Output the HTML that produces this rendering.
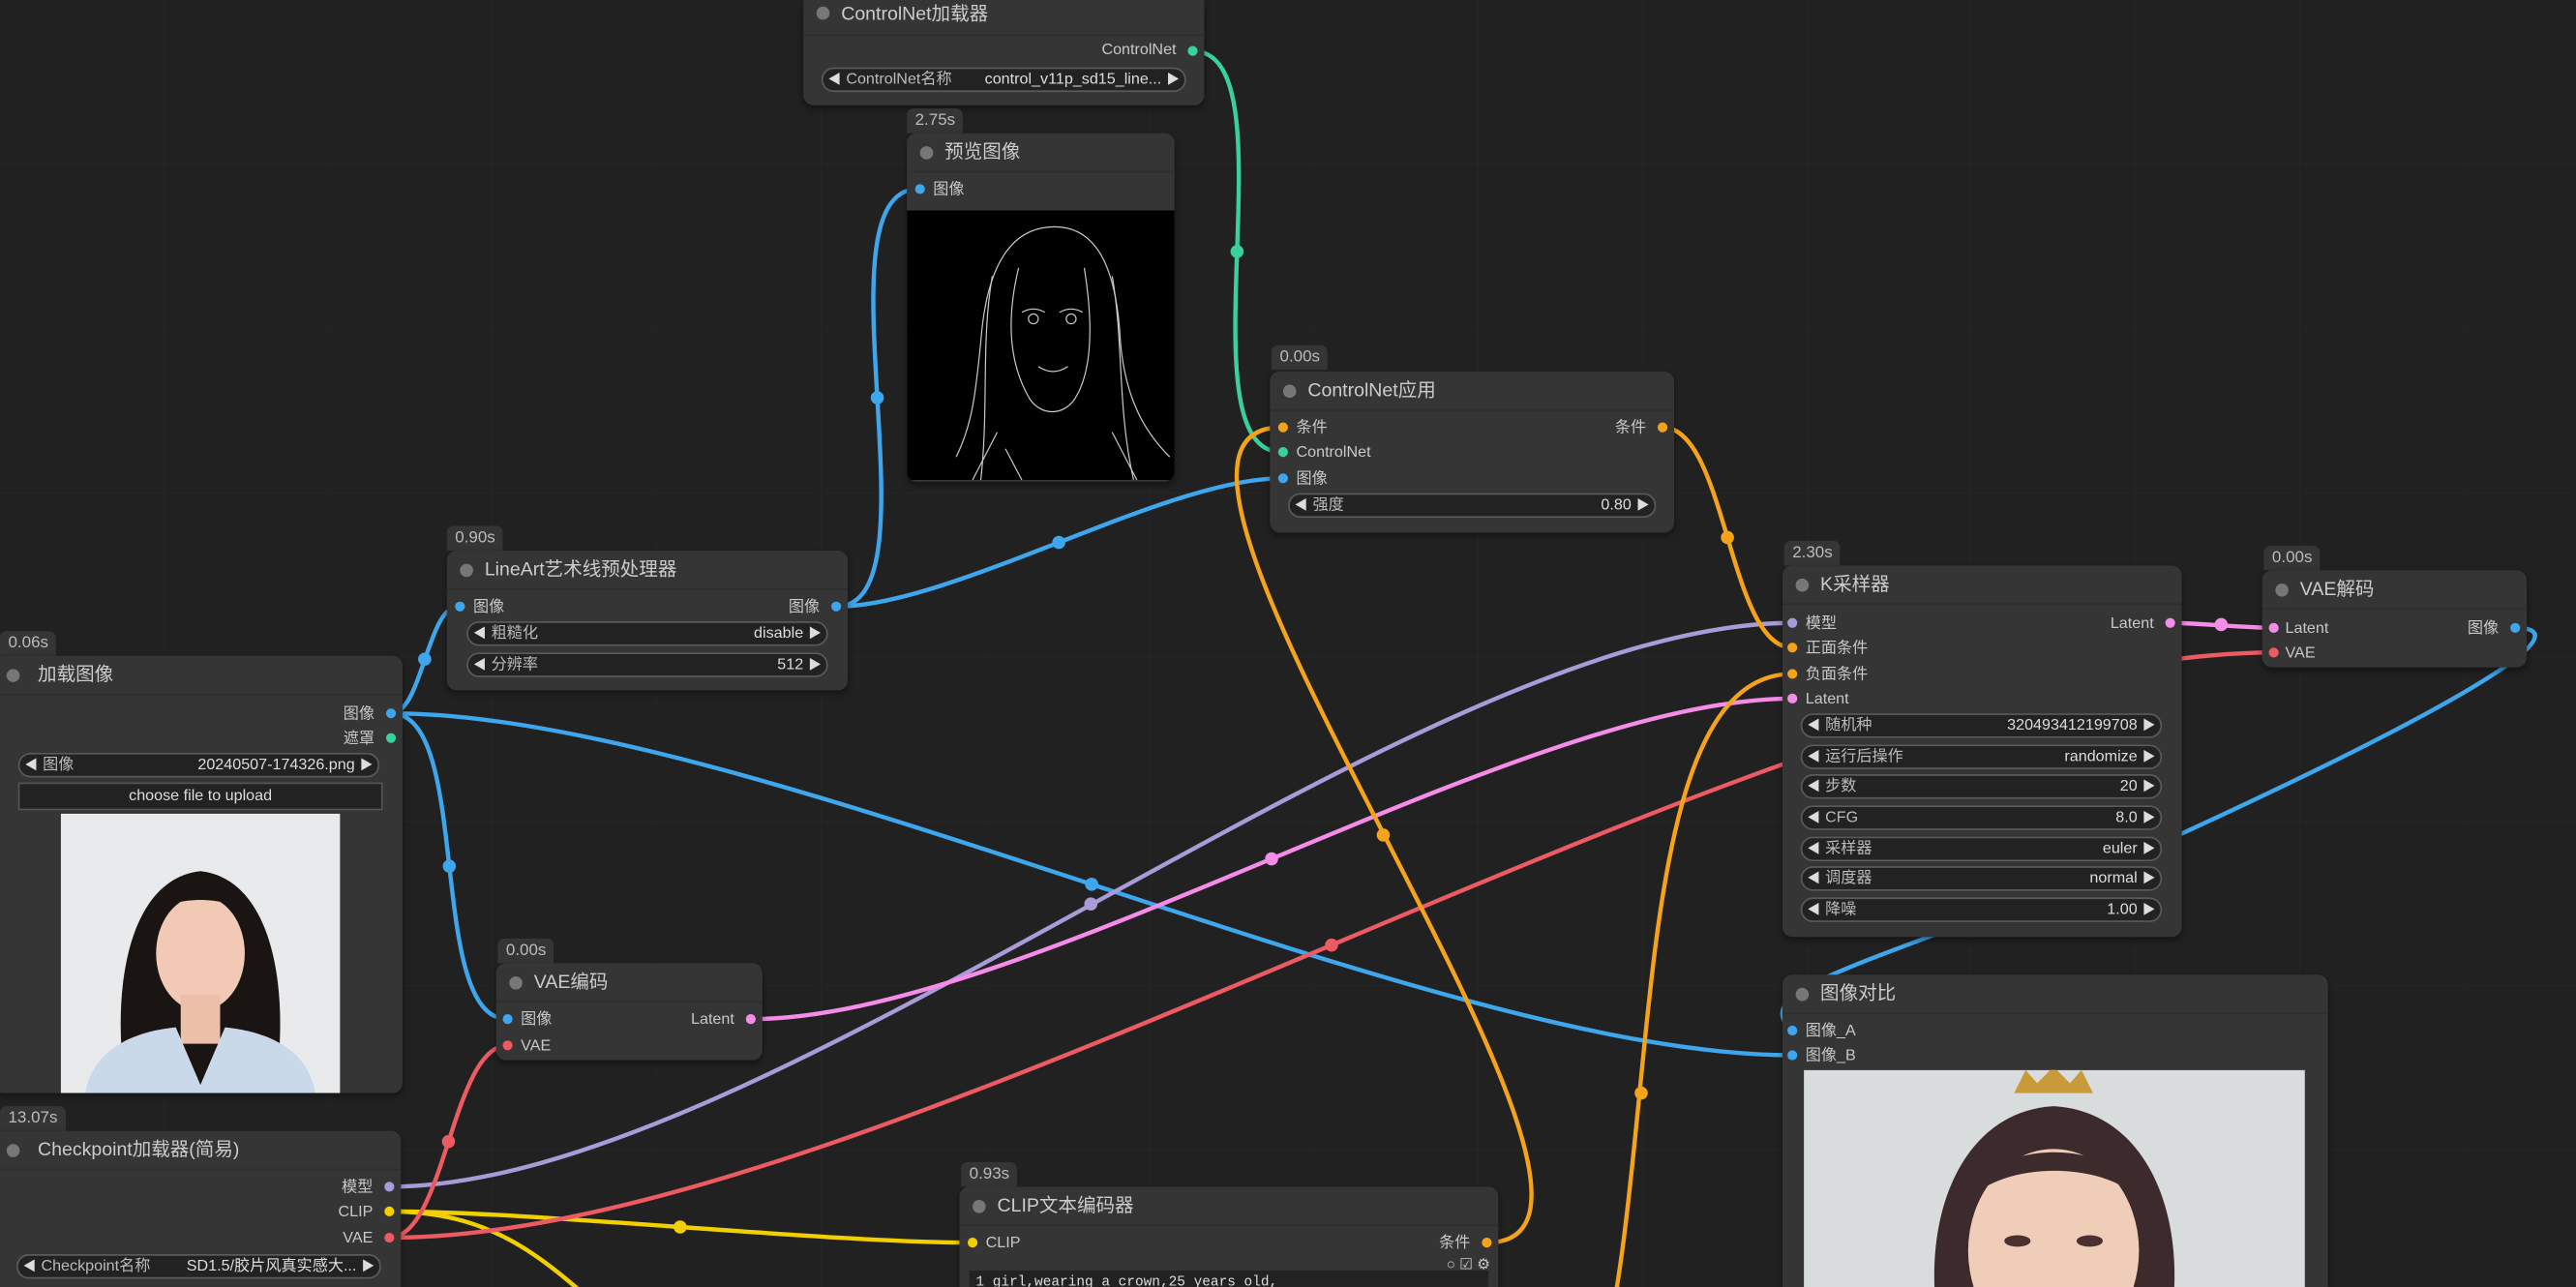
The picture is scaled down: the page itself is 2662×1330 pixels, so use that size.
<!DOCTYPE html>
<html><head><meta charset="utf-8"><style>
html,body{margin:0;padding:0;background:#212121;overflow:hidden;width:2662px;height:1330px}
#wrap{width:2662px;height:1330px;overflow:hidden;position:relative;background:#212121}
#c{position:absolute;left:0;top:0;width:1568px;height:783px;overflow:hidden;transform-origin:0 0;transform:scale(1.69770,1.69860);font-family:"Liberation Sans","Noto Sans CJK SC",sans-serif;color:#c8c8c8}
.n{position:absolute;background:#353535;border-radius:6px;box-shadow:0 2px 4px rgba(0,0,0,.4)}
.t{position:absolute;left:0;right:0;top:0;height:23px;border-bottom:1px solid #2e2e2e;font-size:11.5px;color:#ccc;line-height:24px;padding-left:23px}
.t:before{content:"";position:absolute;left:8px;top:8px;width:8px;height:8px;border-radius:50%;background:#777}
.b{position:absolute;background:#353535;border-radius:4px 4px 0 0;font-size:10px;color:#bbb;padding:0 5px;height:15px;line-height:15px}
.s{position:absolute;font-size:9.5px;color:#c8c8c8;line-height:12px;white-space:nowrap}
.d{position:absolute;width:6px;height:6px;border-radius:50%}
.w{position:absolute;height:13px;background:#222;border:1px solid #5a5a5a;border-radius:8px;font-size:9.5px;line-height:13px;color:#ddd;white-space:nowrap}
.w .l{position:absolute;left:14px;color:#bbb}
.w .v{position:absolute;right:14px}
.w:before{content:"◀";position:absolute;left:3px;font-size:8px;color:#ddd}
.w:after{content:"▶";position:absolute;right:3px;font-size:8px;color:#ddd}
</style></head><body><div id="wrap"><div id="c">
<svg width="1568" height="783" style="position:absolute;left:0;top:0">
<defs><pattern id="g" width="100" height="100" patternUnits="userSpaceOnUse"><path d="M100 0V100H0" fill="none" stroke="#262626" stroke-width="1"/></pattern></defs>
<rect width="1568" height="783" fill="url(#g)"/>
<g fill="none" stroke-width="2.6">
<path d="M726,31 C788.5,31 717.5,275 780,275" stroke="#3ad09a"/>
<path d="M509,369 C574,369 494,115 559,115" stroke="#3ea6ec"/>
<path d="M509,369 C579.5,369 709.5,291 780,291" stroke="#3ea6ec"/>
<path d="M238,434 C257,434 260,369 279,369" stroke="#3ea6ec"/>
<path d="M238,434 C288,434 259,620 309,620" stroke="#3ea6ec"/>
<path d="M238,434 C457.5,434 871.5,642 1091,642" stroke="#3ea6ec"/>
<path d="M237,722 C467,722 861,379 1091,379" stroke="#a99ad8"/>
<path d="M237,737 C300,737 330,765 370,800" stroke="#f2d000"/>
<path d="M237,737 C325.6,737 502.4,756 591,756" stroke="#f2d000"/>
<path d="M237,753 C271,753 275,636 309,636" stroke="#ec5a62"/>
<path d="M237,753 C537,753 1084,397 1384,397" stroke="#ec5a62"/>
<path d="M457,620 C623,620 925,425 1091,425" stroke="#f48ce8"/>
<path d="M1321,379 C1337,379 1368,382 1384,382" stroke="#f48ce8"/>
<path d="M1531,382 C1570,382 1520,420 1300,520 C1150,585 1060,600 1091,627" stroke="#3ea6ec"/>
<path d="M1012,260 C1051,260 1052,394 1091,394" stroke="#f5a318"/>
<path d="M905,756 C1035,756 650,260 780,260" stroke="#f5a318"/>
<path d="M905,920 C1041,920 955,410 1091,410" stroke="#f5a318"/>
</g>
<g>
<circle cx="753" cy="153" r="4" fill="#3ad09a"/>
<circle cx="534" cy="242" r="4" fill="#3ea6ec"/>
<circle cx="644.5" cy="330" r="4" fill="#3ea6ec"/>
<circle cx="258.5" cy="401" r="4" fill="#3ea6ec"/>
<circle cx="273.5" cy="527" r="4" fill="#3ea6ec"/>
<circle cx="664.5" cy="538" r="4" fill="#3ea6ec"/>
<circle cx="664" cy="550" r="4" fill="#a99ad8"/>
<circle cx="414" cy="746.5" r="4" fill="#f2d000"/>
<circle cx="273" cy="694.5" r="4" fill="#ec5a62"/>
<circle cx="810.5" cy="575" r="4" fill="#ec5a62"/>
<circle cx="774" cy="522.5" r="4" fill="#f48ce8"/>
<circle cx="1352" cy="380" r="4" fill="#f48ce8"/>
<circle cx="1051.5" cy="327" r="4" fill="#f5a318"/>
<circle cx="842" cy="508" r="4" fill="#f5a318"/>
<circle cx="999" cy="665" r="4" fill="#f5a318"/>
</g>
</svg>

<div class="n" style="left:489px;top:-4px;width:244px;height:68px"><div class="t" style="height:25px;line-height:26px">ControlNet加载器</div>
<div class="s" style="right:17px;top:29px">ControlNet</div><div class="d" style="right:4px;top:32px;background:#3ad09a"></div>
<div class="w" style="left:11px;top:45px;width:220px"><span class="l">ControlNet名称</span><span class="v">control_v11p_sd15_line...</span></div></div>

<div class="b" style="left:552px;top:66px">2.75s</div>
<div class="n" style="left:552px;top:81px;width:163px;height:212px;overflow:hidden"><div class="t">预览图像</div>
<div class="d" style="left:5px;top:31px;background:#3ea6ec"></div><div class="s" style="left:16px;top:29px">图像</div>
<svg style="position:absolute;left:0;top:47px" width="163" height="164"><rect width="163" height="164" fill="#000"/>
<g fill="none" stroke="#ccc" stroke-width="0.7">
<path d="M90,10 C60,10 48,40 45,80 C42,110 40,130 30,150"/><path d="M90,10 C118,10 128,40 130,80 C133,115 145,135 160,150"/>
<path d="M68,35 C62,60 60,90 75,115 C82,125 95,125 102,115 C115,95 112,60 108,35"/>
<path d="M70,62 q7,-4 14,0 M93,62 q7,-4 14,0"/><circle cx="77" cy="66" r="3"/><circle cx="100" cy="66" r="3"/>
<path d="M80,95 q9,6 18,0"/><path d="M40,164 L55,135 M140,164 L125,135 M60,145 L70,164"/>
<path d="M52,40 C45,80 50,120 45,164 M125,40 C132,80 128,120 138,164"/></g></svg></div>

<div class="b" style="left:774px;top:210px">0.00s</div>
<div class="n" style="left:773px;top:226px;width:246px;height:98px"><div class="t">ControlNet应用</div>
<div class="d" style="left:5px;top:31px;background:#f5a318"></div><div class="s" style="left:16px;top:29px">条件</div>
<div class="s" style="right:17px;top:29px">条件</div><div class="d" style="right:4px;top:31px;background:#f5a318"></div>
<div class="d" style="left:5px;top:46px;background:#3ad09a"></div><div class="s" style="left:16px;top:44px">ControlNet</div>
<div class="d" style="left:5px;top:62px;background:#3ea6ec"></div><div class="s" style="left:16px;top:60px">图像</div>
<div class="w" style="left:11px;top:74px;width:222px"><span class="l">强度</span><span class="v">0.80</span></div></div>

<div class="b" style="left:272px;top:320px">0.90s</div>
<div class="n" style="left:272px;top:335px;width:244px;height:85px"><div class="t">LineArt艺术线预处理器</div>
<div class="d" style="left:5px;top:31px;background:#3ea6ec"></div><div class="s" style="left:16px;top:29px">图像</div>
<div class="s" style="right:17px;top:29px">图像</div><div class="d" style="right:4px;top:31px;background:#3ea6ec"></div>
<div class="w" style="left:12px;top:43px;width:218px"><span class="l">粗糙化</span><span class="v">disable</span></div>
<div class="w" style="left:12px;top:62px;width:218px"><span class="l">分辨率</span><span class="v">512</span></div></div>

<div class="b" style="left:0px;top:384px">0.06s</div>
<div class="n" style="left:-4px;top:399px;width:249px;height:266px;overflow:hidden"><div class="t" style="padding-left:27px">加载图像</div>
<div class="s" style="right:17px;top:30px">图像</div><div class="d" style="right:4px;top:32px;background:#3ea6ec"></div>
<div class="s" style="right:17px;top:45px">遮罩</div><div class="d" style="right:4px;top:47px;background:#3ad09a"></div>
<div class="w" style="left:15px;top:59px;width:218px"><span class="l">图像</span><span class="v">20240507-174326.png</span></div>
<div style="position:absolute;left:15px;top:77px;width:220px;height:15px;background:#222;border:1px solid #555;font-size:9.5px;line-height:15px;text-align:center;color:#ddd">choose file to upload</div>
<svg style="position:absolute;left:41px;top:96px" width="170" height="170"><rect width="170" height="170" fill="#e9eaec"/>
<path d="M40,170 C30,110 40,40 85,35 C130,40 140,110 130,170Z" fill="#1a1412"/>
<ellipse cx="85" cy="85" rx="27" ry="35" fill="#f1c9b4"/><rect x="73" y="110" width="24" height="30" fill="#ecc0a8"/>
<path d="M15,170 C20,140 50,132 70,130 L85,165 L100,130 C120,132 150,140 155,170Z" fill="#c9d9ea"/>
<path d="M58,60 C65,40 105,40 112,60 C100,50 70,50 58,60Z" fill="#1a1412"/></svg></div>

<div class="b" style="left:303px;top:571px">0.00s</div>
<div class="n" style="left:302px;top:586px;width:162px;height:59px"><div class="t">VAE编码</div>
<div class="d" style="left:4px;top:31px;background:#3ea6ec"></div><div class="s" style="left:15px;top:29px">图像</div>
<div class="s" style="right:17px;top:29px">Latent</div><div class="d" style="right:4px;top:31px;background:#f48ce8"></div>
<div class="d" style="left:4px;top:47px;background:#ec5a62"></div><div class="s" style="left:15px;top:45px">VAE</div></div>

<div class="b" style="left:0px;top:673px">13.07s</div>
<div class="n" style="left:-4px;top:688px;width:248px;height:95px;border-radius:6px 6px 0 0"><div class="t" style="padding-left:27px">Checkpoint加载器(简易)</div>
<div class="s" style="right:17px;top:29px">模型</div><div class="d" style="right:4px;top:31px;background:#a99ad8"></div>
<div class="s" style="right:17px;top:44px">CLIP</div><div class="d" style="right:4px;top:46px;background:#f2d000"></div>
<div class="s" style="right:17px;top:60px">VAE</div><div class="d" style="right:4px;top:62px;background:#ec5a62"></div>
<div class="w" style="left:14px;top:75px;width:220px"><span class="l">Checkpoint名称</span><span class="v">SD1.5/胶片风真实感大...</span></div></div>

<div class="b" style="left:585px;top:707px">0.93s</div>
<div class="n" style="left:584px;top:722px;width:328px;height:61px;border-radius:6px 6px 0 0;overflow:hidden"><div class="t">CLIP文本编码器</div>
<div class="d" style="left:5px;top:31px;background:#f2d000"></div><div class="s" style="left:16px;top:29px">CLIP</div>
<div class="s" style="right:17px;top:29px">条件</div><div class="d" style="right:4px;top:31px;background:#f5a318"></div>
<div class="s" style="right:5px;top:41px;font-size:9px">○ ☑ ⚙</div>
<div style="position:absolute;left:6px;top:51px;width:316px;height:30px;background:#222;font-family:'Liberation Mono',monospace;font-size:8.5px;color:#ddd;padding:2px 4px;box-sizing:border-box">1 girl,wearing a crown,25 years old,</div></div>

<div class="b" style="left:1086px;top:329px">2.30s</div>
<div class="n" style="left:1085px;top:344px;width:243px;height:226px"><div class="t">K采样器</div>
<div class="d" style="left:3px;top:32px;background:#a99ad8"></div><div class="s" style="left:14px;top:30px">模型</div>
<div class="s" style="right:17px;top:30px">Latent</div><div class="d" style="right:4px;top:32px;background:#f48ce8"></div>
<div class="d" style="left:3px;top:47px;background:#f5a318"></div><div class="s" style="left:14px;top:45px">正面条件</div>
<div class="d" style="left:3px;top:63px;background:#f5a318"></div><div class="s" style="left:14px;top:61px">负面条件</div>
<div class="d" style="left:3px;top:78px;background:#f48ce8"></div><div class="s" style="left:14px;top:76px">Latent</div>
<div class="w" style="left:11px;top:90px;width:218px"><span class="l">随机种</span><span class="v">320493412199708</span></div>
<div class="w" style="left:11px;top:109px;width:218px"><span class="l">运行后操作</span><span class="v">randomize</span></div>
<div class="w" style="left:11px;top:127px;width:218px"><span class="l">步数</span><span class="v">20</span></div>
<div class="w" style="left:11px;top:146px;width:218px"><span class="l">CFG</span><span class="v">8.0</span></div>
<div class="w" style="left:11px;top:165px;width:218px"><span class="l">采样器</span><span class="v">euler</span></div>
<div class="w" style="left:11px;top:183px;width:218px"><span class="l">调度器</span><span class="v">normal</span></div>
<div class="w" style="left:11px;top:202px;width:218px"><span class="l">降噪</span><span class="v">1.00</span></div></div>

<div class="b" style="left:1378px;top:332px">0.00s</div>
<div class="n" style="left:1377px;top:347px;width:161px;height:59px"><div class="t">VAE解码</div>
<div class="d" style="left:4px;top:32px;background:#f48ce8"></div><div class="s" style="left:14px;top:30px">Latent</div>
<div class="s" style="right:17px;top:30px">图像</div><div class="d" style="right:4px;top:32px;background:#3ea6ec"></div>
<div class="d" style="left:4px;top:47px;background:#ec5a62"></div><div class="s" style="left:14px;top:45px">VAE</div></div>

<div class="n" style="left:1085px;top:593px;width:332px;height:190px;border-radius:6px 6px 0 0;overflow:hidden"><div class="t">图像对比</div>
<div class="d" style="left:3px;top:31px;background:#3ea6ec"></div><div class="s" style="left:14px;top:29px">图像_A</div>
<div class="d" style="left:3px;top:46px;background:#3ea6ec"></div><div class="s" style="left:14px;top:44px">图像_B</div>
<svg style="position:absolute;left:13px;top:58px" width="305" height="132"><rect width="305" height="132" fill="#d9dcdc"/>
<path d="M80,140 C75,80 100,25 152,22 C205,25 230,80 225,140Z" fill="#3c2a2c"/>
<ellipse cx="152" cy="110" rx="52" ry="62" fill="#f0cdb8"/>
<path d="M100,80 C110,40 195,40 205,80 C185,55 120,55 100,80Z" fill="#3c2a2c"/>
<path d="M128,14 L135,0 L142,8 L152,-2 L162,8 L169,0 L176,14Z" fill="#c99a3a"/>
<ellipse cx="130" cy="104" rx="8" ry="3.5" fill="#4a3030"/><ellipse cx="174" cy="104" rx="8" ry="3.5" fill="#4a3030"/></svg></div>
</div></div></body></html>
